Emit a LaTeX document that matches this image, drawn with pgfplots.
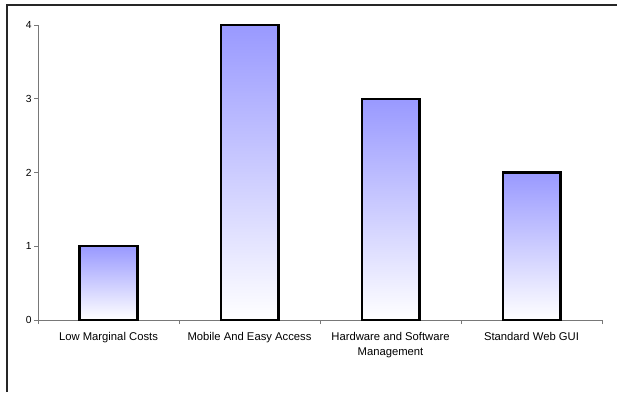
\documentclass[border=0pt]{standalone}
\usepackage{pgfplots}
\pgfplotsset{compat=1.18}
\usepackage{fontspec}
\setmainfont{Liberation Sans}
\definecolor{barblue}{RGB}{153,153,255}
\definecolor{axgray}{RGB}{120,120,120}
\tikzset{mybar/.style={draw=black, line width=2.2bp, top color=barblue, bottom color=white, shade}}
\begin{document}
\begin{tikzpicture}[x=1bp,y=1bp]
\useasboundingbox (0,0) rectangle (617,-392);
\draw[line width=2bp, black!85] (7,-392) -- (7,-5) -- (617,-5);
\begin{axis}[
  at={(38bp,-320bp)}, anchor=south west,
  scale only axis, width=564bp, height=295bp,
  xmin=-0.5, xmax=3.5, ymin=0, ymax=4,
  axis x line*=bottom, axis y line*=left,
  axis line style={axgray, line width=0.9bp, -},
  xtick={0,1,2,3},
  xticklabels={Low Marginal Costs, Mobile And Easy Access, {Hardware and Software\\Management}, Standard Web GUI},
  xticklabel style={align=center, font=\fontsize{11.3}{15}\selectfont, yshift=-5bp},
  major x tick style={draw=none},
  minor xtick={-0.5,0.5,1.5,2.5,3.5},
  minor x tick style={axgray, line width=0.9bp},
  minor tick length=4bp,
  ytick={0,1,2,3,4},
  yticklabel style={font=\fontsize{10.3}{12}\selectfont, xshift=1bp},
  major y tick style={axgray, line width=0.9bp},
  major tick length=4bp,
  tick align=outside,
  /pgf/number format/assume math mode=true,
  ybar, bar width=0.41, bar shift=0pt,
  clip=false,
]
\addplot[mybar] coordinates {(0,1)};
\addplot[mybar] coordinates {(1,4)};
\addplot[mybar] coordinates {(2,3)};
\addplot[mybar] coordinates {(3,2)};
\end{axis}
\end{tikzpicture}
\end{document}
